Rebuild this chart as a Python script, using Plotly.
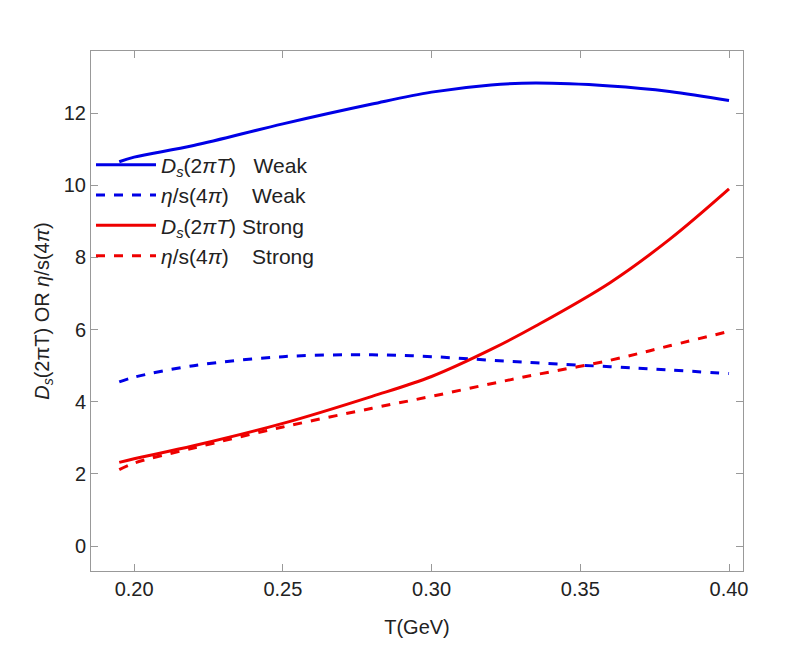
import plotly.graph_objects as go

T = [0.195, 0.20, 0.22, 0.25, 0.28, 0.30, 0.32, 0.335, 0.36, 0.38, 0.40]
ds_weak = [10.65, 10.78, 11.1, 11.7, 12.25, 12.58, 12.78, 12.83, 12.75, 12.6, 12.35]
eta_weak = [4.55, 4.68, 5.0, 5.25, 5.3, 5.25, 5.15, 5.08, 4.97, 4.88, 4.78]
ds_strong = [2.32, 2.42, 2.78, 3.4, 4.15, 4.7, 5.45, 6.1, 7.3, 8.5, 9.9]
eta_strong = [2.12, 2.3, 2.72, 3.3, 3.82, 4.15, 4.5, 4.75, 5.15, 5.55, 5.95]

names = ["<i>D<sub>s</sub></i>(2<i>πT</i>)   Weak", "<i>η</i>/s(4<i>π</i>)    Weak",
         "<i>D<sub>s</sub></i>(2<i>πT</i>) Strong", "<i>η</i>/s(4<i>π</i>)    Strong"]
series = [ds_weak, eta_weak, ds_strong, eta_strong]
colors = ["#0000e6", "#0000e6", "#ee0000", "#ee0000"]
dashes = ["solid", "dash", "solid", "dash"]

fig = go.Figure()
for n, y, c, d in zip(names, series, colors, dashes):
    fig.add_trace(go.Scatter(x=T, y=y, mode="lines", name=n, line=dict(color=c, dash=d, width=3, shape="spline")))

ax = dict(showgrid=False, zeroline=False, mirror="ticks", ticks="inside", showline=True,
          linecolor="#999", tickcolor="#999", linewidth=1, ticklen=7,
          tickfont=dict(size=20, color="#222"))
fig.update_layout(
    width=789, height=668, plot_bgcolor="white", paper_bgcolor="white",
    font=dict(family="Liberation Sans, Arial", size=20, color="#222"),
    margin=dict(l=83, r=54, t=43, b=105),
    xaxis=dict(ax, range=[0.1855, 0.4047], tickvals=[0.20, 0.25, 0.30, 0.35, 0.40],
               ticktext=["0.20", "0.25", "0.30", "0.35", "0.40"],
               title=dict(text="T(GeV)", font=dict(size=20), standoff=20)),
    yaxis=dict(ax, range=[-0.69, 13.72], tickvals=[0, 2, 4, 6, 8, 10, 12],
               title=dict(text="<i>D<sub>s</sub></i>(2πT) OR <i>η</i>/s(4<i>π</i>)", font=dict(size=20), standoff=8)),
    legend=dict(x=0.0, y=0.82, xanchor="left", yanchor="top", bgcolor="rgba(0,0,0,0)",
                font=dict(size=21), tracegroupgap=8, itemwidth=60),
    showlegend=True,
)
fig.write_html("out.html")
